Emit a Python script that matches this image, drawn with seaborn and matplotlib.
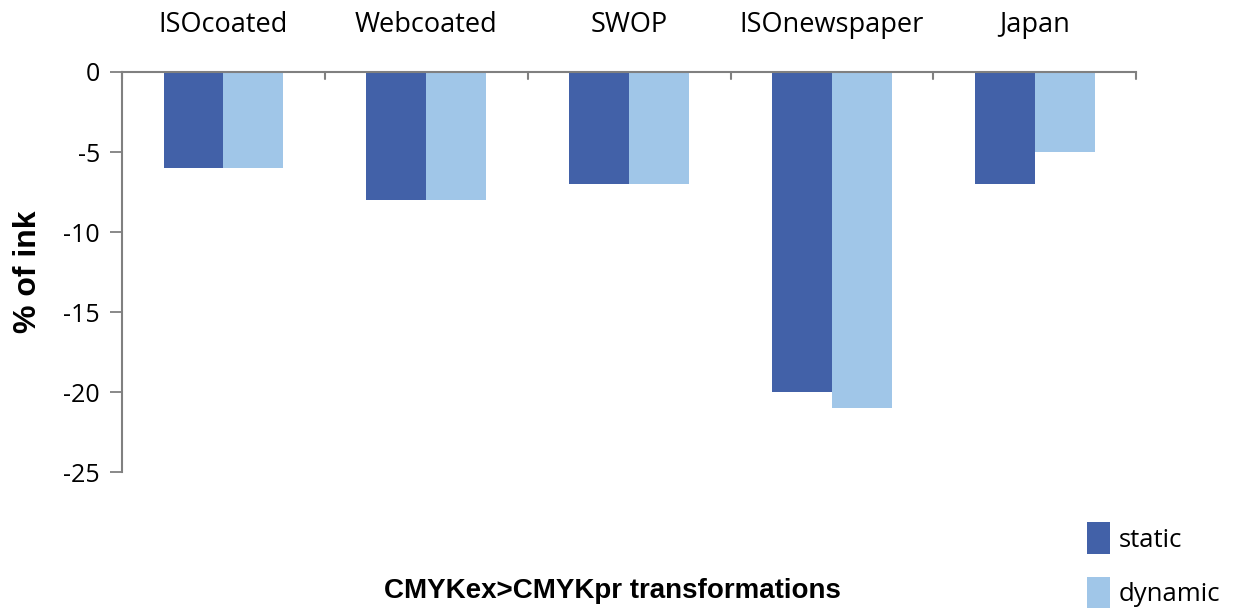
import pandas as pd
import numpy as np
import matplotlib
matplotlib.use('Agg')
import matplotlib.pyplot as plt
import seaborn as sns
from matplotlib.patches import Patch

categories = ['ISOcoated', 'Webcoated', 'SWOP', 'ISOnewspaper', 'Japan']
static_vals = [-6, -8, -7, -20, -7]
dynamic_vals = [-6, -8, -7, -21, -5]
series_names = ['static', 'dynamic']
y_ticks = [0, -5, -10, -15, -20, -25]

df = pd.DataFrame({
    'transformation': categories * 2,
    'ink': static_vals + dynamic_vals,
    'series': [series_names[0]] * len(categories) + [series_names[1]] * len(categories),
})

colors = {'static': '#4261A8', 'dynamic': '#A0C6E8'}
axis_grey = '#808080'
light_font = ['Open Sans', 'DejaVu Sans']

sns.set_style('white')
plt.rcParams['font.family'] = ['Liberation Sans', 'DejaVu Sans']
plt.rcParams['text.color'] = 'black'
plt.rcParams['axes.labelcolor'] = 'black'
plt.rcParams['xtick.color'] = 'black'
plt.rcParams['ytick.color'] = 'black'

fig = plt.figure(figsize=(12.4, 6.1), dpi=100)
ax = fig.add_axes([0.0984, 0.226, 0.818, 0.656])

sns.barplot(data=df, x='transformation', y='ink', hue='series', palette=colors,
            width=0.59, saturation=1, linewidth=0, ax=ax, legend=False)

ax.set_ylim(-25, 0)
ax.set_xlim(-0.5, len(categories) - 0.5)
ax.set_yticks(y_ticks)
ax.set_yticklabels([str(t) for t in y_ticks], fontsize=18, family=light_font)

# category labels sit above the zero line
ax.xaxis.tick_top()
ax.set_xticks(np.arange(len(categories)))
ax.set_xticklabels(categories, fontsize=19.5, family=light_font)
ax.tick_params(axis='x', length=0, pad=24)
for x in np.arange(len(categories) + 1) - 0.5:
    ax.plot([x, x], [0, -0.45], color=axis_grey, lw=1.5, clip_on=False)

ax.tick_params(axis='y', length=9, width=1.3, color=axis_grey, labelcolor='black',
               direction='out', left=True, pad=7)

for side in ['right', 'bottom']:
    ax.spines[side].set_visible(False)
for side in ['left', 'top']:
    ax.spines[side].set_color(axis_grey)
    ax.spines[side].set_linewidth(1.5)

ax.set_xlabel('')
ax.set_ylabel('% of ink', fontsize=23, fontweight='bold')
ax.yaxis.set_label_coords(-0.078, 0.5)
fig.text(0.494, 0.02, 'CMYKex>CMYKpr transformations', fontsize=20, fontweight='bold',
         ha='center', va='baseline')

handles = [Patch(facecolor=colors[s], edgecolor='none') for s in series_names]
fig.legend(handles, series_names, loc='lower right', bbox_to_anchor=(1.003, -0.035),
           frameon=False, handlelength=0.9, handleheight=1.5,
           handletextpad=0.35, labelspacing=0.9,
           prop={'family': light_font, 'size': 18.5})

fig.savefig('out.png', dpi=100, facecolor='white')
